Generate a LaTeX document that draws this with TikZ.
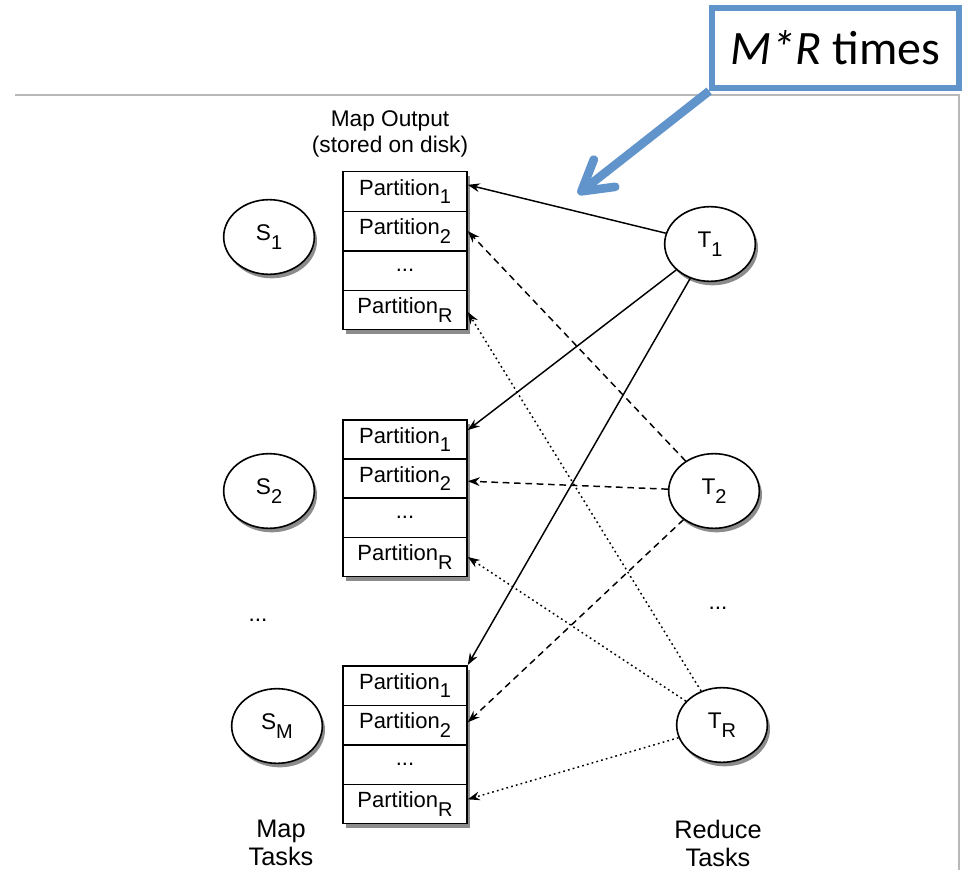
\documentclass[tikz,border=0pt]{standalone}
\usepackage{fontspec}
\setmainfont{Liberation Sans}
\newfontfamily\notefont{Carlito}
\usetikzlibrary{arrows.meta,positioning,shapes.geometric,shadows}
\definecolor{noteblue}{RGB}{98,148,204}
\newcommand{\low}[1]{\raisebox{-6.5pt}{\fontsize{15}{15}\selectfont #1}}

\begin{document}
\begin{tikzpicture}[>=Stealth,x=0.75pt,y=-0.75pt,
  shade/.style={general shadow={fill=black!45,shadow xshift=2pt,shadow yshift=-3pt}},
  task/.style={ellipse,draw,fill=white,line width=1.2pt,minimum width=68pt,
               minimum height=56pt,inner sep=0pt,font=\fontsize{17}{20}\selectfont,shade},
  part/.style={draw,fill=white,line width=1.1pt,minimum width=93pt,
               minimum height=29.6pt,inner sep=0pt,font=\fontsize{16.5}{19}\selectfont,shade},
  txt/.style={font=\fontsize{17}{19}\selectfont,align=center,inner sep=0pt},
  big/.style={font=\fontsize{19}{21}\selectfont,align=center,inner sep=0pt},
  pull/.style={-{Stealth[length=9pt,width=6.5pt]},line width=1.1pt},
  pulldash/.style={pull,dash pattern=on 5pt off 3.5pt},
  pulldot/.style={pull,dash pattern=on 1.3pt off 2.4pt},
  note/.style={draw=noteblue,line width=4.5pt,fill=white,minimum width=185pt,
               minimum height=60pt,inner sep=0pt},
  hint/.style={draw=noteblue,line width=6.5pt,
               -{Straight Barb[length=22pt,width=26pt,round]}}]
\useasboundingbox (0,0) rectangle (963,870);
% frame of the slide
\draw[gray!55,line width=0.8pt] (15,95) -- (959,95) -- (959,870);

% map side
\node[task] (S1) at (269,237) {S\low{1}};
\node[task] (S2) at (269,491) {S\low{2}};
\node[task] (SM) at (277,726) {S\low{M}};
\node[txt] (sdots) at (258,620) {...};
\node[txt] (mapout) at (390,134) {Map Output\\(stored on disk)};
\node[big] (maptasks) at (281,843) {Map\\Tasks};

% partitions
\node[part] (p11) at (405,191.5) {Partition\low{1}};
\node[part] (p12) at (405,231) {Partition\low{2}};
\node[part] (p13) at (405,270.5) {...};
\node[part] (p1R) at (405,310) {Partition\low{R}};
\node[part] (p21) at (405,439.5) {Partition\low{1}};
\node[part] (p22) at (405,478.5) {Partition\low{2}};
\node[part] (p23) at (405,517.5) {...};
\node[part] (p2R) at (405,557) {Partition\low{R}};
\node[part] (p31) at (405,685.5) {Partition\low{1}};
\node[part] (p32) at (405,725) {Partition\low{2}};
\node[part] (p33) at (405,764.5) {...};
\node[part] (p3R) at (405,804) {Partition\low{R}};

% reduce side
\node[task] (T1) at (710,244) {T\low{1}};
\node[task] (T2) at (714,491) {T\low{2}};
\node[task] (TR) at (722,725) {T\low{R}};
\node[txt] (tdots) at (718,608) {...};
\node[big] (redtasks) at (718,843) {Reduce\\Tasks};

% fetches
\draw[pull] (T1) -- ([yshift=5pt]p11.east);
\draw[pull] (T1) -- ([yshift=7pt]p21.east);
\draw[pull] (T1) -- (p31.north east);
\draw[pulldash] (T2) -- (p12.east);
\draw[pulldash] (T2) -- ([yshift=-2pt]p22.east);
\draw[pulldash] (T2) -- ([yshift=2pt]p32.east);
\draw[pulldot] (TR) -- ([yshift=-1.5pt]p1R.east);
\draw[pulldot] (TR) -- (p2R.east);
\draw[pulldot] (TR) -- ([yshift=3.5pt]p3R.east);

% callout
\node[note] (mr) at (835.5,48) {\notefont\fontsize{36}{40}\selectfont\textit{M*R} times};
\coordinate (aim) at (578,194);
\draw[hint] (mr.south west) -- (aim);
\end{tikzpicture}
\end{document}
